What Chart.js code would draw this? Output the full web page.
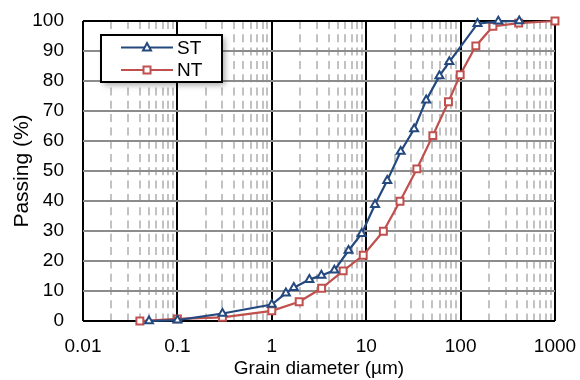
<!DOCTYPE html>
<html>
<head>
<meta charset="utf-8">
<script src="https://cdn.jsdelivr.net/npm/chart.js"></script>
<style>
  html, body { margin: 0; padding: 0; background: #fff; }
  #wrap { width: 580px; height: 380px; position: relative; }
</style>
</head>
<body>
<div id="wrap"><canvas id="psdChart"></canvas></div>
<script>
// --- dados ---
const stSize = [0.05, 0.1, 0.3, 1, 1.41, 1.71, 2.5, 3.35, 4.6, 6.5, 8.95, 12.4, 16.7, 23.2, 32.2, 43.2, 59.7, 76, 151, 251, 418];
const stPass = [0, 0.3, 2.5, 5.5, 9.3, 11.1, 13.8, 15.2, 16.9, 23.5, 29.1, 38.8, 46.8, 56.5, 64, 73.6, 81.7, 86.4, 99.1, 99.9, 100];

const ntSize = [0.04, 0.1, 0.3, 1, 1.95, 3.37, 5.7, 9.3, 15.2, 22.8, 34.4, 50.8, 74.4, 99, 145, 220, 412, 1000];
const ntPass = [0, 0.7, 1.2, 3.4, 6.4, 10.9, 16.7, 21.9, 29.9, 39.9, 50.7, 61.8, 73.1, 82.1, 91.7, 98.2, 99.3, 100];

const xTicks = [0.01, 0.1, 1, 10, 100, 1000];
const yTicks = [0, 10, 20, 30, 40, 50, 60, 70, 80, 90, 100];

const blue = '#24497f';
const red = '#c0504d';
const font = '"Liberation Sans", Arial, sans-serif';

// linhas secundárias (2..9 em cada década)
const minorTicks = [];
for (let d = 0; d < xTicks.length - 1; d++) {
    for (let k = 2; k <= 9; k++) minorTicks.push(xTicks[d] * k);
}

// legenda com caixa dentro da área do gráfico
const legendBox = {
    id: 'legendBox',
    afterDatasetsDraw(chart) {
        const { ctx, chartArea } = chart;
        const left = chartArea.left + 18, top = chartArea.top + 14;
        const w = 121, h = 47;
        ctx.save();
        ctx.shadowColor = 'rgba(0,0,0,0.35)';
        ctx.shadowBlur = 6;
        ctx.shadowOffsetX = 3;
        ctx.shadowOffsetY = 3;
        ctx.fillStyle = '#fff';
        ctx.fillRect(left, top, w, h);
        ctx.shadowColor = 'transparent';
        ctx.lineWidth = 2;
        ctx.strokeStyle = '#000';
        ctx.strokeRect(left, top, w, h);

        chart.data.datasets.forEach((ds, i) => {
            const y = top + 12.5 + i * 22.5;
            ctx.strokeStyle = ds.borderColor;
            ctx.lineWidth = 2;
            ctx.beginPath();
            ctx.moveTo(left + 20, y);
            ctx.lineTo(left + 72, y);
            ctx.stroke();
            ctx.fillStyle = '#fff';
            ctx.beginPath();
            const cx = left + 46;
            if (ds.pointStyle === 'triangle') {
                ctx.moveTo(cx, y - 4.5);
                ctx.lineTo(cx + 4, y + 3);
                ctx.lineTo(cx - 4, y + 3);
                ctx.closePath();
            } else {
                ctx.rect(cx - 3.5, y - 3.5, 7, 7);
            }
            ctx.fill();
            ctx.stroke();
            ctx.fillStyle = '#000';
            ctx.font = '19px ' + font;
            ctx.textBaseline = 'middle';
            ctx.textAlign = 'left';
            ctx.fillText(ds.label, left + 76, y + 1);
        });
        ctx.restore();
    }
};

const ctx = document.getElementById('psdChart').getContext('2d');

new Chart(ctx, {
    type: 'line',
    data: {
        datasets: [{
            label: 'ST',
            data: stSize.map((s, i) => ({ x: s, y: stPass[i] })),
            borderColor: blue,
            backgroundColor: '#fff',
            borderWidth: 2.2,
            pointStyle: 'triangle',
            pointRadius: 4.6,
            pointBorderWidth: 2,
            pointBackgroundColor: '#fff',
            pointBorderColor: blue,
            tension: 0,
            clip: false
        }, {
            label: 'NT',
            data: ntSize.map((s, i) => ({ x: s, y: ntPass[i] })),
            borderColor: red,
            backgroundColor: '#fff',
            borderWidth: 2.2,
            pointStyle: 'rect',
            pointRadius: 4.9,
            pointBorderWidth: 2,
            pointBackgroundColor: '#fff',
            pointBorderColor: red,
            tension: 0,
            clip: false
        }]
    },
    options: {
        responsive: true,
        maintainAspectRatio: false,
        animation: false,
        layout: { padding: { top: 21, right: 25, bottom: 0, left: 10 } },
        scales: {
            x: {
                type: 'logarithmic',
                position: 'bottom',
                min: 0.01,
                max: 1000,
                afterBuildTicks: s => { s.ticks = xTicks.map(v => ({ value: v })); },
                afterFit: s => { s.height = 59; s.paddingLeft = 0; s.paddingRight = 0; },
                ticks: {
                    autoSkip: false,
                    maxRotation: 0,
                    padding: 14,
                    color: '#000',
                    font: { family: font, size: 19 },
                    callback: v => String(v)
                },
                grid: { color: '#000', lineWidth: 2, drawTicks: false },
                border: { display: false },
                title: {
                    display: true,
                    text: 'Grain diameter (µm)',
                    color: '#000',
                    font: { family: font, size: 19 },
                    padding: 0
                }
            },
            xm: {
                type: 'logarithmic',
                position: 'bottom',
                min: 0.01,
                max: 1000,
                afterBuildTicks: s => { s.ticks = minorTicks.map(v => ({ value: v })); },
                afterFit: s => { s.height = 0; s.paddingLeft = 0; s.paddingRight = 0; },
                ticks: { display: false },
                grid: { color: '#c2c2c2', lineWidth: 2, drawTicks: false },
                border: { display: false, dash: [8, 5.3] }
            },
            y: {
                min: 0,
                max: 100,
                afterBuildTicks: s => { s.ticks = yTicks.map(v => ({ value: v })); },
                afterFit: s => { s.width = 73; s.paddingTop = 0; s.paddingBottom = 0; },
                ticks: {
                    padding: 19,
                    color: '#000',
                    font: { family: font, size: 19 }
                },
                grid: {
                    color: c => (c.tick && (c.tick.value === 0 || c.tick.value === 100)) ? '#000' : '#8c8c8c',
                    lineWidth: 2,
                    drawTicks: false
                },
                border: { display: false },
                title: {
                    display: true,
                    text: 'Passing (%)',
                    color: '#000',
                    font: { family: font, size: 21 },
                    padding: 0
                }
            }
        },
        plugins: {
            legend: { display: false },
            tooltip: { enabled: false }
        }
    },
    plugins: [legendBox]
});
</script>
</body>
</html>
